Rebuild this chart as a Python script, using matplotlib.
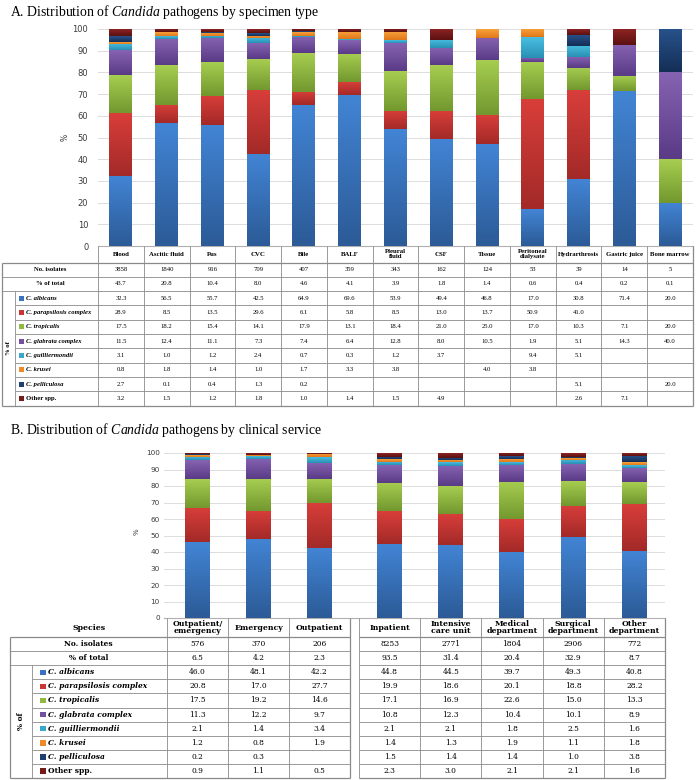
import matplotlib.pyplot as plt
import matplotlib.colors as mcolors
import numpy as np

plt.rcParams['mathtext.fontset'] = 'custom'
plt.rcParams['mathtext.rm'] = 'Liberation Serif'
plt.rcParams['mathtext.it'] = 'Liberation Serif:italic'
plt.rcParams['mathtext.bf'] = 'Liberation Serif:bold'

# ---------------- data ----------------
species = ['C. albicans', 'C. parapsilosis complex', 'C. tropicalis', 'C. glabrata complex',
           'C. guilliermondii', 'C. krusei', 'C. pelliculosa', 'Other spp.']

specimens = ['Blood', 'Ascitic fluid', 'Pus', 'CVC', 'Bile', 'BALF', 'Pleural\nfluid', 'CSF',
             'Tissue', 'Peritoneal\ndialysate', 'Hydrarthrosis', 'Gastric juice', 'Bone marrow']
isolates_A = [3858, 1840, 916, 709, 407, 359, 343, 162, 124, 53, 39, 14, 5]
total_A = [43.7, 20.8, 10.4, 8.0, 4.6, 4.1, 3.9, 1.8, 1.4, 0.6, 0.4, 0.2, 0.1]
albicans_A = [32.3, 56.5, 55.7, 42.5, 64.9, 69.6, 53.9, 49.4, 46.8, 17.0, 30.8, 71.4, 20.0]
parapsilosis_A = [28.9, 8.5, 13.5, 29.6, 6.1, 5.8, 8.5, 13.0, 13.7, 50.9, 41.0, None, None]
tropicalis_A = [17.5, 18.2, 15.4, 14.1, 17.9, 13.1, 18.4, 21.0, 25.0, 17.0, 10.3, 7.1, 20.0]
glabrata_A = [11.5, 12.4, 11.1, 7.3, 7.4, 6.4, 12.8, 8.0, 10.5, 1.9, 5.1, 14.3, 40.0]
guilliermondii_A = [3.1, 1.0, 1.2, 2.4, 0.7, 0.3, 1.2, 3.7, None, 9.4, 5.1, None, None]
krusei_A = [0.8, 1.8, 1.4, 1.0, 1.7, 3.3, 3.8, None, 4.0, 3.8, None, None, None]
pelliculosa_A = [2.7, 0.1, 0.4, 1.3, 0.2, None, None, None, None, None, 5.1, None, 20.0]
other_A = [3.2, 1.5, 1.2, 1.8, 1.0, 1.4, 1.5, 4.9, None, None, 2.6, 7.1, None]

services = ['Outpatient/\nemergency', 'Emergency', 'Outpatient', 'Inpatient', 'Intensive\ncare unit',
            'Medical\ndepartment', 'Surgical\ndepartment', 'Other\ndepartment']
isolates_B = [576, 370, 206, 8253, 2771, 1804, 2906, 772]
total_B = [6.5, 4.2, 2.3, 93.5, 31.4, 20.4, 32.9, 8.7]
albicans_B = [46.0, 48.1, 42.2, 44.8, 44.5, 39.7, 49.3, 40.8]
parapsilosis_B = [20.8, 17.0, 27.7, 19.9, 18.6, 20.1, 18.8, 28.2]
tropicalis_B = [17.5, 19.2, 14.6, 17.1, 16.9, 22.6, 15.0, 13.3]
glabrata_B = [11.3, 12.2, 9.7, 10.8, 12.3, 10.4, 10.1, 8.9]
guilliermondii_B = [2.1, 1.4, 3.4, 2.1, 2.1, 1.8, 2.5, 1.6]
krusei_B = [1.2, 0.8, 1.9, 1.4, 1.3, 1.9, 1.1, 1.8]
pelliculosa_B = [0.2, 0.3, None, 1.5, 1.4, 1.4, 1.0, 3.8]
other_B = [0.9, 1.1, 0.5, 2.3, 3.0, 2.1, 2.1, 1.6]

series_A = [albicans_A, parapsilosis_A, tropicalis_A, glabrata_A,
            guilliermondii_A, krusei_A, pelliculosa_A, other_A]
series_B = [albicans_B, parapsilosis_B, tropicalis_B, glabrata_B,
            guilliermondii_B, krusei_B, pelliculosa_B, other_B]

# (top, bottom) gradient colours for each species
grad_colors = [('#4284d4', '#2c5b97'), ('#d83e3a', '#a32a28'), ('#a6cd50', '#73982f'),
               ('#8663b2', '#5a3b86'), ('#48bee0', '#2a90b5'), ('#faa23c', '#e0781a'),
               ('#28528c', '#142f56'), ('#8c2424', '#5c1010')]
swatch_colors = ['#3a72c0', '#c93633', '#8fba3e', '#7350a0', '#38a9cc', '#f08a28', '#1e4070', '#761a1a']

SERIF = 'Liberation Serif'
LINE = '#8a8a8a'

# ---------------- layout (pixels) ----------------
W, H = 696, 780
fig = plt.figure(figsize=(W / 100, H / 100), dpi=100)


def px_axes(x0, y0, x1, y1):
    return fig.add_axes([x0 / W, 1 - y1 / H, (x1 - x0) / W, (y1 - y0) / H])


# table A columns
a_left, a_colw = 98, 45.77
a_edges = [a_left + a_colw * i for i in range(len(specimens) + 1)]
a_centers = [(a_edges[i] + a_edges[i + 1]) / 2 for i in range(len(specimens))]
# table B columns (two groups separated by a narrow gap)
b_edges1 = [167 + 61 * i for i in range(4)]
b_edges2 = [359 + 61.2 * i for i in range(6)]
b_colspans = [(b_edges1[i], b_edges1[i + 1]) for i in range(3)] + \
             [(b_edges2[i], b_edges2[i + 1]) for i in range(5)]
b_centers = [(l + r) / 2 for l, r in b_colspans]


def draw_stack(ax, centers, series, width):
    bottom = np.zeros(len(centers))
    for vals, (ctop, cbot) in zip(series, grad_colors):
        v = np.array([0.0 if x is None else x for x in vals])
        bars = ax.bar(centers, v, width, bottom=bottom, color=cbot, linewidth=0, zorder=2)
        c1 = np.array(mcolors.to_rgb(ctop))
        c2 = np.array(mcolors.to_rgb(cbot))
        grad = np.linspace(0, 1, 32)[:, None, None] * (c2 - c1) + c1
        for b in bars:
            if b.get_height() <= 0:
                continue
            ax.imshow(grad, extent=(b.get_x(), b.get_x() + b.get_width(),
                                    b.get_y(), b.get_y() + b.get_height()),
                      aspect='auto', interpolation='bilinear', origin='upper', zorder=3)
        bottom += v


def style_chart(ax, x0, x1, fs, pad):
    ax.set_xlim(x0, x1)
    ax.set_ylim(0, 100)
    ax.set_yticks(range(0, 101, 10))
    ax.set_xticks([])
    ax.tick_params(axis='y', length=0, labelsize=fs, pad=pad, labelcolor='#3a3a3a')
    ax.grid(axis='y', color='#dcdcdc', linewidth=0.7, zorder=0)
    for s in ['top', 'right', 'left']:
        ax.spines[s].set_visible(False)
    ax.spines['bottom'].set_color('#b0b0b0')
    ax.spines['bottom'].set_linewidth(0.8)
    ax.set_facecolor('none')


# ---------------- chart A ----------------
axA = px_axes(98, 29, 693, 246)
draw_stack(axA, a_centers, series_A, 23)
style_chart(axA, 98, 693, 6, 7)
fig.text(65 / W, 1 - 137 / H, '%', rotation=90, fontsize=5.5, ha='center', va='center', color='#3a3a3a')

# ---------------- chart B ----------------
axB = px_axes(164, 453, 665, 618)
draw_stack(axB, b_centers, series_B, 25)
style_chart(axB, 164, 665, 5.2, 3)
fig.text(137 / W, 1 - 532 / H, '%', rotation=90, fontsize=5, ha='center', va='center', color='#3a3a3a')

# ---------------- titles ----------------
fig.text(10 / W, 1 - 12 / H, r'A. Distribution of $\mathit{Candida}$ pathogens by specimen type',
         fontsize=9.9, family=SERIF, ha='left', va='center')
fig.text(10 / W, 1 - 430 / H, r'B. Distribution of $\mathit{Candida}$ pathogens by clinical service',
         fontsize=9.9, family=SERIF, ha='left', va='center')

# ---------------- tables (overlay in pixel coords) ----------------
ov = px_axes(0, 0, W, H)
ov.set_xlim(0, W)
ov.set_ylim(H, 0)
ov.axis('off')


def hline(y, x0, x1, lw=0.6):
    ov.plot([x0, x1], [y, y], color=LINE, lw=lw, solid_capstyle='butt')


def vline(x, y0, y1, lw=0.6):
    ov.plot([x, x], [y0, y1], color=LINE, lw=lw, solid_capstyle='butt')


def fmt(v):
    return '' if v is None else ('%.1f' % v if isinstance(v, float) else str(v))


def draw_table(spans, groups, names, counts, totals, series,
               x_out, x_lab, x_name, y_head, y_top, row_h, fs, fs_head, sw, sw_off, font):
    """spans: (left,right) of each data column; groups: (left,right) of contiguous column blocks"""
    n_rows = 2 + len(series)
    ys = [y_top + row_h * i for i in range(n_rows + 1)]
    for gi, (gl, gr) in enumerate(groups):
        xl = x_out if gi == 0 else gl
        for i, y in enumerate(ys):
            if 3 <= i < n_rows:
                hline(y, x_lab if gi == 0 else gl, gr)
            else:
                hline(y, xl, gr, lw=0.9 if i in (0, n_rows) else 0.6)
        for l, r in spans:
            if gl - 0.5 <= l <= gr:
                vline(l, y_head, ys[-1])
        vline(gr, y_head, ys[-1], lw=0.9)
    vline(x_out, ys[0], ys[-1], lw=0.9)
    vline(x_lab, ys[2], ys[-1])
    # header labels
    for (l, r), name in zip(spans, names):
        ov.text((l + r) / 2, (y_head + ys[0]) / 2, name, ha='center', va='center', fontsize=fs_head,
                family=font, weight='bold', linespacing=0.95)
    # count rows
    for lbl, row, y in [('No. isolates', counts, ys[0]), ('% of total', totals, ys[1])]:
        ov.text((x_out + x_name) / 2, y + row_h / 2, lbl, ha='center', va='center', fontsize=fs,
                family=font, weight='bold')
        for (l, r), v in zip(spans, row):
            ov.text((l + r) / 2, y + row_h / 2, fmt(v), ha='center', va='center', fontsize=fs, family=font)
    # species rows
    ov.text((x_out + x_lab) / 2, (ys[2] + ys[-1]) / 2, '% of', rotation=90, ha='center', va='center',
            fontsize=fs, family=font, weight='bold')
    for k, (sp, vals) in enumerate(zip(species, series)):
        y = ys[2 + k] + row_h / 2
        ov.add_patch(plt.Rectangle((x_lab + sw_off, y - sw / 2), sw, sw, color=swatch_colors[k], lw=0))
        ov.text(x_lab + sw_off + sw + 2.5, y, sp, ha='left', va='center', fontsize=fs, family=font,
                weight='bold', style='normal' if sp.startswith('Other') else 'italic')
        for (l, r), v in zip(spans, vals):
            ov.text((l + r) / 2, y, fmt(v), ha='center', va='center', fontsize=fs, family=font)


a_spans = [(a_edges[i], a_edges[i + 1]) for i in range(len(specimens))]
draw_table(a_spans, [(a_edges[0], a_edges[-1])], specimens, isolates_A, total_A, series_A,
           x_out=2, x_lab=15, x_name=98, y_head=246, y_top=262.5, row_h=14.3,
           fs=4.8, fs_head=4.9, sw=5, sw_off=4, font=SERIF)

draw_table(b_colspans, [(b_edges1[0], b_edges1[-1]), (b_edges2[0], b_edges2[-1])], services,
           isolates_B, total_B, series_B,
           x_out=10, x_lab=32, x_name=167, y_head=618, y_top=637, row_h=14.1,
           fs=5.4, fs_head=5.6, sw=5.5, sw_off=8, font='DejaVu Serif')
ov.text(89, 628, 'Species', ha='center', va='center', fontsize=5.6, family='DejaVu Serif', weight='bold')

fig.savefig('out.png', dpi=100)
